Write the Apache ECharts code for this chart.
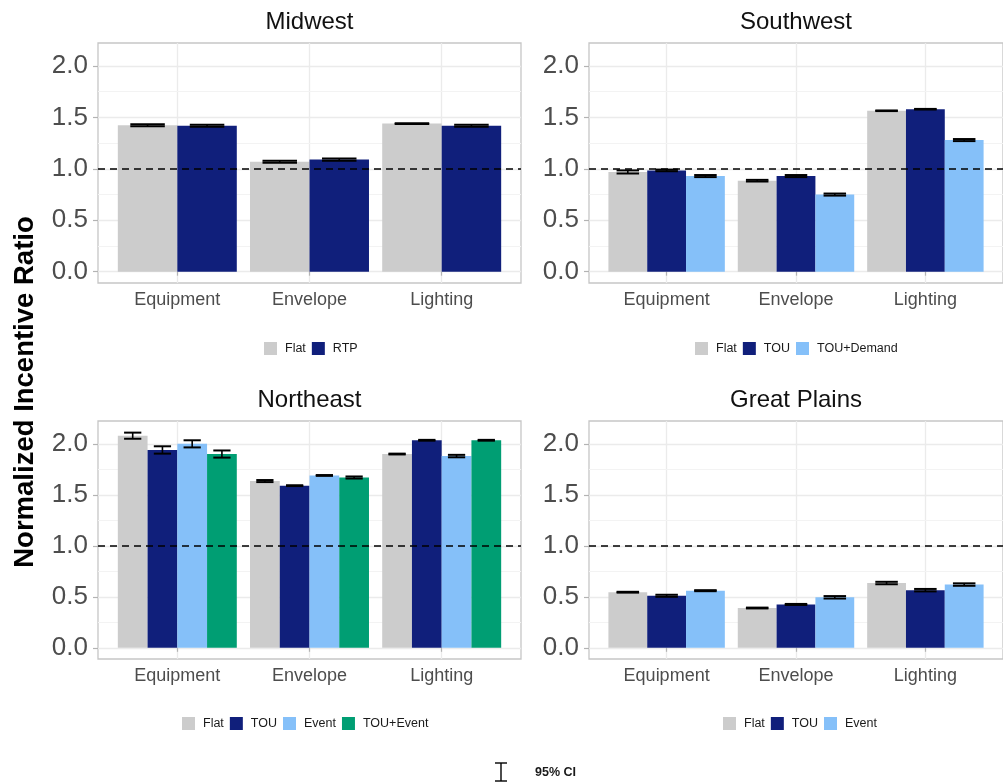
<!DOCTYPE html>
<html>
<head>
<meta charset="utf-8">
<script src="https://cdn.jsdelivr.net/npm/echarts@6/dist/echarts.min.js"></script>
<style>
html,body{margin:0;padding:0;background:#fff;}
#chart{width:1003px;height:784px;}
</style>
</head>
<body>
<div id="chart"></div>
<script>
// ---------- data ----------
const categories = ['Equipment', 'Envelope', 'Lighting'];
const yTickValues = [0, 0.5, 1, 1.5, 2];
const referenceValue = 1;

const midwestLevels = ['Flat', 'RTP'];
const midwestFlat = [1.425, 1.07, 1.44];
const midwestFlatCI = [0.01, 0.01, 0.003];
const midwestRTP = [1.42, 1.09, 1.42];
const midwestRTPCI = [0.01, 0.01, 0.01];

const southwestLevels = ['Flat', 'TOU', 'TOU+Demand'];
const southwestFlat = [0.97, 0.885, 1.565];
const southwestFlatCI = [0.015, 0.008, 0.003];
const southwestTOU = [0.985, 0.93, 1.58];
const southwestTOUCI = [0.008, 0.01, 0.003];
const southwestTOUDemand = [0.93, 0.75, 1.28];
const southwestTOUDemandCI = [0.01, 0.01, 0.01];

const northeastLevels = ['Flat', 'TOU', 'Event', 'TOU+Event'];
const northeastFlat = [2.08, 1.635, 1.9];
const northeastFlatCI = [0.03, 0.01, 0.004];
const northeastTOU = [1.94, 1.59, 2.035];
const northeastTOUCI = [0.036, 0.004, 0.004];
const northeastEvent = [2.0, 1.69, 1.88];
const northeastEventCI = [0.035, 0.004, 0.012];
const northeastTOUEvent = [1.9, 1.67, 2.035];
const northeastTOUEventCI = [0.035, 0.01, 0.004];

const greatPlainsLevels = ['Flat', 'TOU', 'Event'];
const greatPlainsFlat = [0.545, 0.39, 0.635];
const greatPlainsFlatCI = [0.004, 0.004, 0.012];
const greatPlainsTOU = [0.51, 0.425, 0.565];
const greatPlainsTOUCI = [0.01, 0.005, 0.012];
const greatPlainsEvent = [0.56, 0.495, 0.62];
const greatPlainsEventCI = [0.005, 0.012, 0.012];

// ---------- styling / layout ----------
const levelColors = {
  'Flat': '#CCCCCC',
  'RTP': '#101F7B',
  'TOU': '#101F7B',
  'TOU+Demand': '#85C0F9',
  'Event': '#85C0F9',
  'TOU+Event': '#009E73'
};
const FONT = "'Liberation Sans', Arial, sans-serif";

const panels = [
  { title: 'Midwest', left: 98, top: 43, width: 423, height: 240, legendLeft: 264, legendTop: 342,
    levels: midwestLevels, values: [midwestFlat, midwestRTP], cis: [midwestFlatCI, midwestRTPCI] },
  { title: 'Southwest', left: 589, top: 43, width: 414, height: 240, legendLeft: 695, legendTop: 342,
    levels: southwestLevels, values: [southwestFlat, southwestTOU, southwestTOUDemand],
    cis: [southwestFlatCI, southwestTOUCI, southwestTOUDemandCI] },
  { title: 'Northeast', left: 98, top: 421, width: 423, height: 238, legendLeft: 182, legendTop: 717,
    levels: northeastLevels, values: [northeastFlat, northeastTOU, northeastEvent, northeastTOUEvent],
    cis: [northeastFlatCI, northeastTOUCI, northeastEventCI, northeastTOUEventCI] },
  { title: 'Great Plains', left: 589, top: 421, width: 414, height: 238, legendLeft: 723, legendTop: 717,
    levels: greatPlainsLevels, values: [greatPlainsFlat, greatPlainsTOU, greatPlainsEvent],
    cis: [greatPlainsFlatCI, greatPlainsTOUCI, greatPlainsEventCI] }
];

const Y_MIN = -0.11, Y_MAX = 2.224;
const X_MIN = 0.4, X_MAX = 3.6;

function makeRender(n, j, color) {
  return function (params, api) {
    const cat = api.value(0), v = api.value(1), ci = api.value(2);
    const bw = 0.9 / n;
    const xc = cat - 0.45 + (j + 0.5) * bw;
    const pTL = api.coord([xc - bw / 2, v]);
    const pBR = api.coord([xc + bw / 2, 0]);
    const ew = bw * 0.29;
    const xl = api.coord([xc - ew, v])[0];
    const xr = api.coord([xc + ew, v])[0];
    const xm = api.coord([xc, v])[0];
    const yHi = api.coord([xc, v + ci])[1];
    const yLo = api.coord([xc, v - ci])[1];
    const ls = { stroke: '#000', lineWidth: 2 };
    return {
      type: 'group',
      children: [
        { type: 'rect', shape: { x: pTL[0], y: pTL[1], width: pBR[0] - pTL[0], height: pBR[1] - pTL[1] },
          style: { fill: color } },
        { type: 'line', shape: { x1: xl, y1: yHi, x2: xr, y2: yHi }, style: ls },
        { type: 'line', shape: { x1: xl, y1: yLo, x2: xr, y2: yLo }, style: ls },
        { type: 'line', shape: { x1: xm, y1: yHi, x2: xm, y2: yLo }, style: { stroke: '#000', lineWidth: 1.6 } }
      ]
    };
  };
}

const grids = [], xAxes = [], yAxes = [], series = [], legends = [], graphics = [];

panels.forEach((p, i) => {
  grids.push({ left: p.left, top: p.top, width: p.width, height: p.height, show: true,
    borderColor: '#c6c6c6', borderWidth: 1.3, backgroundColor: '#fff', containLabel: false });
  xAxes.push({
    type: 'value', gridIndex: i, min: X_MIN, max: X_MAX,
    axisLine: { show: false },
    axisTick: { show: true, customValues: [1, 2, 3], length: 4, lineStyle: { color: '#b3b3b3', width: 1.2 } },
    axisLabel: { customValues: [1, 2, 3], formatter: (v) => categories[Math.round(v) - 1],
      fontSize: 18, color: '#4d4d4d', fontFamily: FONT, margin: 8 },
    splitLine: { show: true, lineStyle: { color: '#ebebeb', width: 1.3 } }
  });
  yAxes.push({
    type: 'value', gridIndex: i, min: Y_MIN, max: Y_MAX,
    axisLine: { show: false },
    axisTick: { show: true, customValues: yTickValues, length: 5, lineStyle: { color: '#b3b3b3', width: 1.2 } },
    axisLabel: { customValues: yTickValues, formatter: (v) => v.toFixed(1),
      fontSize: 26, color: '#4d4d4d', fontFamily: FONT, margin: 10 },
    splitLine: { show: true, lineStyle: { color: '#ebebeb', width: 1.3 } }
  });
  // minor gridlines
  series.push({
    type: 'line', xAxisIndex: i, yAxisIndex: i, data: [], silent: true, z: 1,
    markLine: { silent: true, symbol: ['none', 'none'], z: 1, label: { show: false },
      lineStyle: { color: '#f3f3f3', width: 1, type: 'solid' },
      data: [{ yAxis: 0.25 }, { yAxis: 0.75 }, { yAxis: 1.25 }, { yAxis: 1.75 }] }
  });
  p.levels.forEach((lv, j) => {
    const color = levelColors[lv];
    series.push({
      type: 'custom', name: lv, xAxisIndex: i, yAxisIndex: i, z: 2,
      itemStyle: { color: color },
      renderItem: makeRender(p.levels.length, j, color),
      encode: { x: 0, y: 1 },
      data: categories.map((c, k) => [k + 1, p.values[j][k], p.cis[j][k]])
    });
  });
  // reference dashed line at 1
  series.push({
    type: 'line', xAxisIndex: i, yAxisIndex: i, data: [], silent: true, z: 6,
    markLine: { silent: true, symbol: ['none', 'none'], z: 6, label: { show: false },
      lineStyle: { color: '#000', width: 1.5, type: [7, 5] },
      data: [{ yAxis: referenceValue }] }
  });
  legends.push({
    data: p.levels, left: p.legendLeft, top: p.legendTop, padding: 0,
    icon: 'rect', itemWidth: 13, itemHeight: 13, itemGap: 6, selectedMode: false,
    textStyle: { fontSize: 12.5, color: '#1a1a1a', fontFamily: FONT, padding: [0, 0, 0, 3] }
  });
  graphics.push({
    type: 'text', x: p.left + p.width / 2, y: p.top - 21,
    style: { text: p.title, fill: '#111', font: '24px ' + FONT, align: 'center', verticalAlign: 'middle',
      textAlign: 'center', textVerticalAlign: 'middle' }
  });
});

graphics.push({
  type: 'text', x: 25, y: 392, rotation: Math.PI / 2,
  style: { text: 'Normalized Incentive Ratio', fill: '#000', font: 'bold 27.5px ' + FONT,
    align: 'center', verticalAlign: 'middle', textAlign: 'center', textVerticalAlign: 'middle' }
});
// 95% CI key
graphics.push({
  type: 'group', children: [
    { type: 'line', shape: { x1: 495, y1: 763, x2: 507, y2: 763 }, style: { stroke: '#000', lineWidth: 1.4 } },
    { type: 'line', shape: { x1: 495, y1: 781, x2: 507, y2: 781 }, style: { stroke: '#000', lineWidth: 1.4 } },
    { type: 'line', shape: { x1: 501, y1: 763, x2: 501, y2: 781 }, style: { stroke: '#000', lineWidth: 1.4 } },
    { type: 'text', x: 535, y: 773,
      style: { text: '95% CI', fill: '#1a1a1a', font: 'bold 12.5px ' + FONT, align: 'left', verticalAlign: 'middle',
        textAlign: 'left', textVerticalAlign: 'middle' } }
  ]
});

const chart = echarts.init(document.getElementById('chart'), null, { renderer: 'canvas' });
chart.setOption({
  animation: false,
  backgroundColor: '#fff',
  grid: grids,
  xAxis: xAxes,
  yAxis: yAxes,
  legend: legends,
  series: series,
  graphic: graphics
});
</script>
</body>
</html>
